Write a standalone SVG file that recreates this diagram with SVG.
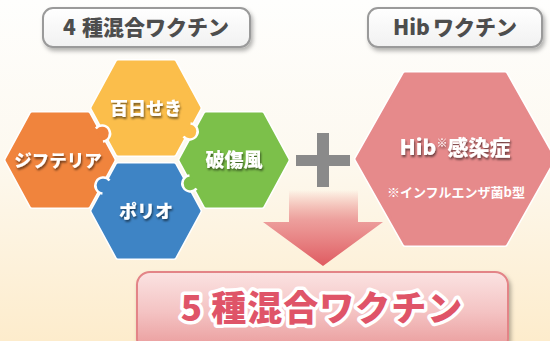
<svg xmlns="http://www.w3.org/2000/svg" width="550" height="341" viewBox="0 0 550 341">
<defs>
  <linearGradient id="bg" x1="0" y1="0" x2="0" y2="1">
    <stop offset="0" stop-color="#fefefd"/>
    <stop offset="0.45" stop-color="#fdf9f0"/>
    <stop offset="1" stop-color="#fdeccc"/>
  </linearGradient>
  <linearGradient id="lbl" x1="0" y1="0" x2="0" y2="1">
    <stop offset="0" stop-color="#ffffff"/>
    <stop offset="1" stop-color="#f1f1f1"/>
  </linearGradient>
  <linearGradient id="arrowG" gradientUnits="userSpaceOnUse" x1="0" y1="190" x2="0" y2="266">
    <stop offset="0" stop-color="#e87a7a" stop-opacity="0"/>
    <stop offset="0.4" stop-color="#ea8f8f" stop-opacity="0.85"/>
    <stop offset="1" stop-color="#df5a60"/>
  </linearGradient>
  <linearGradient id="boxG" x1="0" y1="0" x2="0" y2="1">
    <stop offset="0" stop-color="#fbe3e2"/>
    <stop offset="0.5" stop-color="#f4c3c3"/>
    <stop offset="1" stop-color="#e99898"/>
  </linearGradient>
  <filter id="shadow" x="-20%" y="-30%" width="140%" height="170%">
    <feDropShadow dx="2" dy="3" stdDeviation="2" flood-color="#000" flood-opacity="0.3"/>
  </filter>
  <filter id="tshadow" x="-20%" y="-40%" width="140%" height="190%">
    <feDropShadow dx="1" dy="2" stdDeviation="1.2" flood-color="#000" flood-opacity="0.55"/>
  </filter>
  <polygon id="hex" points="-53,0 -28,-46 28,-46 53,0 28,46 -28,46"/>
  <polygon id="hexBig" points="-98,0 -50,-85 50,-85 98,0 50,85 -50,85"/>
  <path id="knobFill" d="M0,-7.4 A8,8 0 1 1 0,7.4 Z"/>
  <path id="knobEdge" d="M0,-7.4 A8,8 0 1 1 0,7.4"/>
  <style>
    .lblbox { fill: url(#lbl); stroke: #9a9a9a; stroke-width: 2; }
    .lbltxt { font-family: "Noto Sans CJK JP", "Noto Sans", sans-serif; font-weight: 900; font-size: 21px; fill: #4d4d4d; text-anchor: middle; }
    .hexout { stroke: #ffffff; stroke-width: 6; stroke-linejoin: round; }
    .hexin { stroke-width: 3; stroke-linejoin: round; }
    .htxt { font-family: "Noto Sans CJK JP", "Noto Sans", sans-serif; font-weight: 900; fill: #ffffff; text-anchor: middle; }
    .kedge { fill: none; stroke: #ffffff; stroke-width: 2.5; }
  </style>
</defs>

<rect x="0" y="0" width="550" height="341" fill="url(#bg)"/>

<g id="label-4">
  <rect class="lblbox" x="43" y="8" width="207" height="39" rx="10" filter="url(#shadow)"/>
  <text class="lbltxt" x="146" y="35"><tspan>4</tspan><tspan dx="6">種混合ワクチン</tspan></text>
</g>

<g id="label-hib">
  <rect class="lblbox" x="368" y="8" width="174" height="39" rx="10" filter="url(#shadow)"/>
  <text class="lbltxt" x="455" y="35"><tspan>Hib</tspan><tspan dx="3">ワクチン</tspan></text>
</g>

<g id="node-yellow">
  <use href="#hex" x="146" y="108" class="hexout" fill="#ffffff"/>
  <use href="#hex" x="146" y="108" class="hexin" fill="#fbbe4b" stroke="#fbbe4b"/>
  <text class="htxt" x="146" y="115" font-size="18" filter="url(#tshadow)">百日せき</text>
</g>

<g id="node-orange">
  <use href="#hex" x="60" y="160" class="hexout" fill="#ffffff"/>
  <use href="#hex" x="60" y="160" class="hexin" fill="#f0843d" stroke="#f0843d"/>
  <text class="htxt" x="58" y="167" font-size="17.5" filter="url(#tshadow)">ジフテリア</text>
</g>

<g id="node-green">
  <use href="#hex" x="234" y="160" class="hexout" fill="#ffffff"/>
  <use href="#hex" x="234" y="160" class="hexin" fill="#7cc04a" stroke="#7cc04a"/>
  <text class="htxt" x="234" y="167" font-size="19" filter="url(#tshadow)">破傷風</text>
</g>

<g id="node-blue">
  <use href="#hex" x="146" y="211" class="hexout" fill="#ffffff"/>
  <use href="#hex" x="146" y="211" class="hexin" fill="#3e84c5" stroke="#3e84c5"/>
  <text class="htxt" x="146" y="218" font-size="18" filter="url(#tshadow)">ポリオ</text>
</g>

<g id="knobs">
  <g transform="translate(99.4,135) rotate(-28.5)">
    <use href="#knobFill" fill="#f0843d"/><use href="#knobEdge" class="kedge"/>
  </g>
  <g transform="translate(106,187) rotate(-151.5)">
    <use href="#knobFill" fill="#3e84c5"/><use href="#knobEdge" class="kedge"/>
  </g>
  <g transform="translate(187,130) rotate(28.5)">
    <use href="#knobFill" fill="#fbbe4b"/><use href="#knobEdge" class="kedge"/>
  </g>
  <g transform="translate(193,182) rotate(151.5)">
    <use href="#knobFill" fill="#7cc04a"/><use href="#knobEdge" class="kedge"/>
  </g>
</g>

<g id="node-hib">
  <use href="#hexBig" x="455" y="159" class="hexout" fill="#ffffff"/>
  <use href="#hexBig" x="455" y="159" class="hexin" fill="#e68a8b" stroke="#e68a8b"/>
  <text class="htxt" x="455" y="155" font-size="21" filter="url(#tshadow)">Hib<tspan font-size="11" dy="-8">※</tspan><tspan dy="8">感染症</tspan></text>
  <text class="htxt" x="456" y="197" font-size="13" style="font-weight:700">※インフルエンザ菌b型</text>
</g>

<g id="connectors">
  <g id="plus" fill="#8a8a8a">
    <rect x="296" y="155" width="54" height="11"/>
    <rect x="317" y="133" width="12" height="54"/>
  </g>
  <polygon id="arrow" points="289,190 358,190 358,222 383,222 323,266 263,222 289,222" fill="url(#arrowG)"/>
</g>

<g id="node-result">
  <rect x="137" y="272" width="371" height="80" rx="13" fill="url(#boxG)" stroke="#e38487" stroke-width="2" filter="url(#shadow)"/>
  <text x="322" y="321" text-anchor="middle" font-family="'Noto Sans CJK JP', 'Noto Sans', sans-serif" font-weight="900" font-size="35" letter-spacing="1" fill="#df5468" stroke="#ffffff" stroke-width="7" stroke-linejoin="round" paint-order="stroke"><tspan>5</tspan><tspan dx="8">種混合ワクチン</tspan></text>
</g>
</svg>
